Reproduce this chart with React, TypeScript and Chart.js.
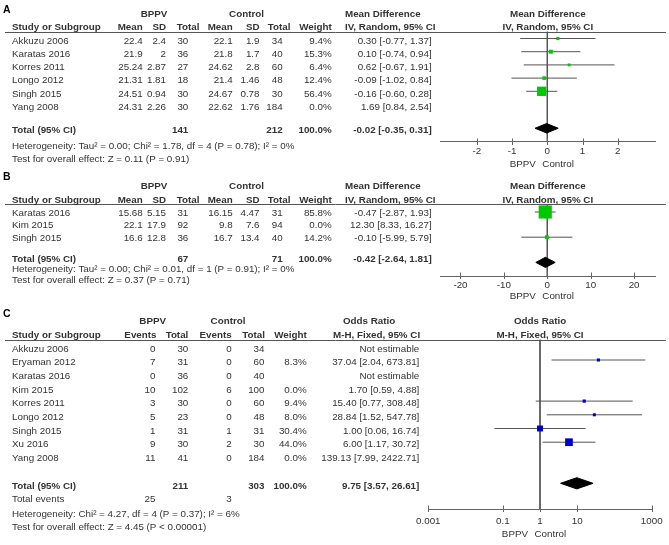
import React, { useEffect, useRef } from "react";
import { Chart, registerables } from "chart.js";

Chart.register(...registerables);

/* ================= Panel A : Mean difference (IV, Random) ================= */
const A_STUDIES = ["Akkuzu 2006", "Karatas 2016", "Korres 2011", "Longo 2012", "Singh 2015", "Yang 2008"];
const A_BPPV_MEAN = [22.4, 21.9, 25.24, 21.31, 24.51, 24.31];
const A_BPPV_SD = [2.4, 2, 2.87, 1.81, 0.94, 2.26];
const A_BPPV_N = [30, 36, 27, 18, 30, 30];
const A_CTRL_MEAN = [22.1, 21.8, 24.62, 21.4, 24.67, 22.62];
const A_CTRL_SD = [1.9, 1.7, 2.8, 1.46, 0.78, 1.76];
const A_CTRL_N = [34, 40, 60, 48, 30, 184];
const A_WEIGHT = [9.4, 15.3, 6.4, 12.4, 56.4, 0.0];
const A_MD = [0.3, 0.1, 0.62, -0.09, -0.16, 1.69];
const A_LO = [-0.77, -0.74, -0.67, -1.02, -0.6, 0.84];
const A_HI = [1.37, 0.94, 1.91, 0.84, 0.28, 2.54];
const A_TOTAL_N = [141, 212];
const A_TOTAL = [-0.02, -0.35, 0.31];
const A_TICKS = [-2, -1, 0, 1, 2];
const A_HET = "Heterogeneity: Tau² = 0.00; Chi² = 1.78, df = 4 (P = 0.78); I² = 0%";
const A_TEST = "Test for overall effect: Z = 0.11 (P = 0.91)";

/* ================= Panel B : Mean difference (IV, Random) ================= */
const B_STUDIES = ["Karatas 2016", "Kim 2015", "Singh 2015"];
const B_BPPV_MEAN = [15.68, 22.1, 16.6];
const B_BPPV_SD = [5.15, 17.9, 12.8];
const B_BPPV_N = [31, 92, 36];
const B_CTRL_MEAN = [16.15, 9.8, 16.7];
const B_CTRL_SD = [4.47, 7.6, 13.4];
const B_CTRL_N = [31, 94, 40];
const B_WEIGHT = [85.8, 0.0, 14.2];
const B_MD = [-0.47, 12.3, -0.1];
const B_LO = [-2.87, 8.33, -5.99];
const B_HI = [1.93, 16.27, 5.79];
const B_TOTAL_N = [67, 71];
const B_TOTAL = [-0.42, -2.64, 1.81];
const B_TICKS = [-20, -10, 0, 10, 20];
const B_HET = "Heterogeneity: Tau² = 0.00; Chi² = 0.01, df = 1 (P = 0.91); I² = 0%";
const B_TEST = "Test for overall effect: Z = 0.37 (P = 0.71)";

/* ================= Panel C : Odds ratio (M-H, Fixed) ================= */
const C_STUDIES = ["Akkuzu 2006", "Eryaman 2012", "Karatas 2016", "Kim 2015", "Korres 2011", "Longo 2012", "Singh 2015", "Xu 2016", "Yang 2008"];
const C_BPPV_EVENTS = [0, 7, 0, 10, 3, 5, 1, 9, 11];
const C_BPPV_N = [30, 31, 36, 102, 30, 23, 31, 30, 41];
const C_CTRL_EVENTS = [0, 0, 0, 6, 0, 0, 1, 2, 0];
const C_CTRL_N = [34, 60, 40, 100, 60, 48, 31, 30, 184];
const C_WEIGHT = [null, 8.3, null, 0.0, 9.4, 8.0, 30.4, 44.0, 0.0];
const C_OR = [null, 37.04, null, 1.7, 15.4, 28.84, 1.0, 6.0, 139.13];
const C_LO = [null, 2.04, null, 0.59, 0.77, 1.52, 0.06, 1.17, 7.99];
const C_HI = [null, 673.81, null, 4.88, 308.48, 547.78, 16.74, 30.72, 2422.71];
const C_TOTAL_N = [211, 303];
const C_TOTAL_EVENTS = [25, 3];
const C_TOTAL = [9.75, 3.57, 26.61];
const C_TICKS = [0.001, 0.1, 1, 10, 1000];
const C_HET = "Heterogeneity: Chi² = 4.27, df = 4 (P = 0.37); I² = 6%";
const C_TEST = "Test for overall effect: Z = 4.45 (P < 0.00001)";

/* ================= styling / layout ================= */
const FONT = '"Liberation Sans", Arial, Helvetica, sans-serif';
const FS = 9.8;
const INK = "#333333";
const LINE = "#555555";
const W = 669;

type Cell = { s: string; x: number | "mid"; v: number; a: CanvasTextAlign; b?: boolean; size?: number; c?: string; dy?: number };

type Geo = {
  top: number; height: number; headerY: number; axisY: number; row1: number; unit: number;
  letterY: number; groupY: number; headY: number; hetY: number; testY: number; textDy: number; totalDy: number;
};

const fmt2 = (v: number) => v.toFixed(2);
const ci = (e: number, l: number, h: number) => `${fmt2(e)} [${fmt2(l)}, ${fmt2(h)}]`;
const rowOf = (g: Geo) => (px: number) => 1 + (px - g.row1) / g.unit;

function mdCells(g: Geo, letter: string, studies: string[], m1: number[], s1: number[], n1: number[],
  m2: number[], s2: number[], n2: number[], w: number[], est: number[], lo: number[], hi: number[],
  totN: number[], tot: number[], het: string, test: string, totalRow: number): Cell[] {
  const r = rowOf(g);
  const c: Cell[] = [];
  c.push({ s: letter, x: 3, v: r(g.letterY), a: "left", b: true, size: 10.5, c: "#000" });
  c.push({ s: "BPPV", x: 154, v: r(g.groupY), a: "center", b: true });
  c.push({ s: "Control", x: 246.5, v: r(g.groupY), a: "center", b: true });
  c.push({ s: "Mean Difference", x: 345, v: r(g.groupY), a: "left", b: true });
  c.push({ s: "Mean Difference", x: "mid", v: r(g.groupY), a: "center", b: true });
  const hv = r(g.headY);
  const heads: [string, number | "mid", CanvasTextAlign][] = [
    ["Study or Subgroup", 12, "left"], ["Mean", 142.7, "right"], ["SD", 166, "right"], ["Total", 199.5, "right"],
    ["Mean", 232.7, "right"], ["SD", 259.5, "right"], ["Total", 290.5, "right"], ["Weight", 331.7, "right"],
    ["IV, Random, 95% CI", 345, "left"], ["IV, Random, 95% CI", "mid", "center"],
  ];
  heads.forEach(([s, x, a]) => c.push({ s, x, v: hv, a, b: true }));
  studies.forEach((name, i) => {
    const v = i + 1, dy = g.textDy;
    c.push({ s: name, x: 12, v, a: "left", dy });
    c.push({ s: String(m1[i]), x: 142.7, v, a: "right", dy });
    c.push({ s: String(s1[i]), x: 166, v, a: "right", dy });
    c.push({ s: String(n1[i]), x: 188.3, v, a: "right", dy });
    c.push({ s: String(m2[i]), x: 232.7, v, a: "right", dy });
    c.push({ s: String(s2[i]), x: 259.5, v, a: "right", dy });
    c.push({ s: String(n2[i]), x: 282.7, v, a: "right", dy });
    c.push({ s: w[i].toFixed(1) + "%", x: 331.7, v, a: "right", dy });
    c.push({ s: ci(est[i], lo[i], hi[i]), x: 431.7, v, a: "right", dy });
  });
  const dy = g.totalDy;
  c.push({ s: "Total (95% CI)", x: 12, v: totalRow, a: "left", b: true, dy });
  c.push({ s: String(totN[0]), x: 188.3, v: totalRow, a: "right", b: true, dy });
  c.push({ s: String(totN[1]), x: 282.7, v: totalRow, a: "right", b: true, dy });
  c.push({ s: "100.0%", x: 331.7, v: totalRow, a: "right", b: true, dy });
  c.push({ s: ci(tot[0], tot[1], tot[2]), x: 431.7, v: totalRow, a: "right", b: true, dy });
  c.push({ s: het, x: 12, v: r(g.hetY), a: "left" });
  c.push({ s: test, x: 12, v: r(g.testY), a: "left" });
  return c;
}

function orCells(g: Geo, totalRow: number, eventsRow: number): Cell[] {
  const r = rowOf(g);
  const c: Cell[] = [];
  c.push({ s: "C", x: 3, v: r(g.letterY), a: "left", b: true, size: 10.5, c: "#000" });
  c.push({ s: "BPPV", x: 152.7, v: r(g.groupY), a: "center", b: true });
  c.push({ s: "Control", x: 228, v: r(g.groupY), a: "center", b: true });
  c.push({ s: "Odds Ratio", x: 343, v: r(g.groupY), a: "left", b: true });
  c.push({ s: "Odds Ratio", x: "mid", v: r(g.groupY), a: "center", b: true });
  const hv = r(g.headY);
  const heads: [string, number | "mid", CanvasTextAlign][] = [
    ["Study or Subgroup", 12, "left"], ["Events", 156.5, "right"], ["Total", 188.3, "right"],
    ["Events", 231.7, "right"], ["Total", 265, "right"], ["Weight", 306.7, "right"],
    ["M-H, Fixed, 95% CI", 333, "left"], ["M-H, Fixed, 95% CI", "mid", "center"],
  ];
  heads.forEach(([s, x, a]) => c.push({ s, x, v: hv, a, b: true }));
  C_STUDIES.forEach((name, i) => {
    const v = i + 1, dy = g.textDy;
    c.push({ s: name, x: 12, v, a: "left", dy });
    c.push({ s: String(C_BPPV_EVENTS[i]), x: 155.5, v, a: "right", dy });
    c.push({ s: String(C_BPPV_N[i]), x: 188.3, v, a: "right", dy });
    c.push({ s: String(C_CTRL_EVENTS[i]), x: 231.7, v, a: "right", dy });
    c.push({ s: String(C_CTRL_N[i]), x: 264.5, v, a: "right", dy });
    const w = C_WEIGHT[i];
    if (w != null) c.push({ s: w.toFixed(1) + "%", x: 306.7, v, a: "right", dy });
    const e = C_OR[i], l = C_LO[i], h = C_HI[i];
    c.push({ s: e == null || l == null || h == null ? "Not estimable" : ci(e, l, h), x: 419.3, v, a: "right", dy });
  });
  const dy = g.totalDy;
  c.push({ s: "Total (95% CI)", x: 12, v: totalRow, a: "left", b: true, dy });
  c.push({ s: String(C_TOTAL_N[0]), x: 188.3, v: totalRow, a: "right", b: true, dy });
  c.push({ s: String(C_TOTAL_N[1]), x: 264.5, v: totalRow, a: "right", b: true, dy });
  c.push({ s: "100.0%", x: 306.7, v: totalRow, a: "right", b: true, dy });
  c.push({ s: ci(C_TOTAL[0], C_TOTAL[1], C_TOTAL[2]), x: 419.3, v: totalRow, a: "right", b: true, dy });
  c.push({ s: "Total events", x: 12, v: eventsRow, a: "left", dy: g.textDy });
  c.push({ s: String(C_TOTAL_EVENTS[0]), x: 155.5, v: eventsRow, a: "right", dy: g.textDy });
  c.push({ s: String(C_TOTAL_EVENTS[1]), x: 231.7, v: eventsRow, a: "right", dy: g.textDy });
  c.push({ s: C_HET, x: 12, v: r(g.hetY), a: "left" });
  c.push({ s: C_TEST, x: 12, v: r(g.testY), a: "left" });
  return c;
}

type Panel = {
  g: Geo; plotLeft: number; plotRight: number;
  xType: "linear" | "logarithmic"; xMin: number; xMax: number; ticks: number[]; tickPad: number;
  nullX: number; favDy: number; diamondHalf: number; markColor: string;
  est: (number | null)[]; lo: (number | null)[]; hi: (number | null)[]; weight: (number | null)[];
  total: number[]; totalRow: number; cells: Cell[];
};

const GEO_A: Geo = { top: 0, height: 171, headerY: 31.5, axisY: 141.7, row1: 38.5, unit: 13.2, letterY: 10, groupY: 14, headY: 27, hetY: 146.5, testY: 159, textDy: 2.5, totalDy: 2.5 };
const GEO_B: Geo = { top: 171, height: 137, headerY: 204, axisY: 276, row1: 212, unit: 12.6, letterY: 177, groupY: 186, headY: 200, hetY: 269.3, testY: 280.5, textDy: 1, totalDy: -3.5 };
const GEO_C: Geo = { top: 308, height: 237, headerY: 339.5, axisY: 509.3, row1: 346.3, unit: 13.7, letterY: 314, groupY: 321.5, headY: 334.8, hetY: 514, testY: 527, textDy: 2.5, totalDy: 2.5 };

const PANEL_A: Panel = {
  g: GEO_A, plotLeft: 440.7, plotRight: 655, xType: "linear", xMin: -3.03, xMax: 3.06, ticks: A_TICKS, tickPad: 4,
  nullX: 0, favDy: 22.6, diamondHalf: 4.7, markColor: "#00c800",
  est: A_MD, lo: A_LO, hi: A_HI, weight: A_WEIGHT, total: A_TOTAL, totalRow: 7.8,
  cells: mdCells(GEO_A, "A", A_STUDIES, A_BPPV_MEAN, A_BPPV_SD, A_BPPV_N, A_CTRL_MEAN, A_CTRL_SD, A_CTRL_N,
    A_WEIGHT, A_MD, A_LO, A_HI, A_TOTAL_N, A_TOTAL, A_HET, A_TEST, 7.8),
};
const PANEL_B: Panel = {
  g: GEO_B, plotLeft: 440.7, plotRight: 655, xType: "linear", xMin: -24.56, xMax: 24.82, ticks: B_TICKS, tickPad: 3.7,
  nullX: 0, favDy: 20.7, diamondHalf: 5.1, markColor: "#00c800",
  est: B_MD, lo: B_LO, hi: B_HI, weight: B_WEIGHT, total: B_TOTAL, totalRow: 5,
  cells: mdCells(GEO_B, "B", B_STUDIES, B_BPPV_MEAN, B_BPPV_SD, B_BPPV_N, B_CTRL_MEAN, B_CTRL_SD, B_CTRL_N,
    B_WEIGHT, B_MD, B_LO, B_HI, B_TOTAL_N, B_TOTAL, B_HET, B_TEST, 5),
};
const PANEL_C: Panel = {
  g: GEO_C, plotLeft: 428.3, plotRight: 655, xType: "logarithmic", xMin: 0.001, xMax: 1000, ticks: C_TICKS, tickPad: 6.4,
  nullX: 1, favDy: 24.7, diamondHalf: 5.6, markColor: "#0000cc",
  est: C_OR, lo: C_LO, hi: C_HI, weight: C_WEIGHT, total: C_TOTAL, totalRow: 11,
  cells: orCells(GEO_C, 11, 12),
};

function makePlugin(p: Panel) {
  return {
    id: "forestTable",
    afterDraw(chart: any) {
      const ctx = chart.ctx as CanvasRenderingContext2D;
      const xs = chart.scales.x, ys = chart.scales.y, area = chart.chartArea;
      const mid = (area.left + area.right) / 2;
      ctx.save();
      ctx.strokeStyle = LINE;
      ctx.lineWidth = 1;
      const hy = Math.round(area.top) + 0.5;
      ctx.beginPath(); ctx.moveTo(5, hy); ctx.lineTo(666, hy); ctx.stroke();
      const ay = Math.round(area.bottom);
      ctx.strokeStyle = "#666";
      p.ticks.forEach((t) => {
        const x = Math.round(xs.getPixelForValue(t)) + 0.5;
        ctx.beginPath(); ctx.moveTo(x, ay - 3.5); ctx.lineTo(x, ay + 3); ctx.stroke();
      });
      ctx.textBaseline = "middle";
      for (const cell of p.cells) {
        ctx.font = `${cell.b ? "bold " : ""}${cell.size ?? FS}px ${FONT}`;
        ctx.fillStyle = cell.c ?? INK;
        ctx.textAlign = cell.a;
        const x = cell.x === "mid" ? mid : cell.x;
        ctx.fillText(cell.s, x, ys.getPixelForValue(cell.v) + (cell.dy ?? 0));
      }
      ctx.font = `${FS}px ${FONT}`;
      ctx.fillStyle = INK;
      ctx.textAlign = "right";
      ctx.fillText("BPPV", mid - 12, area.bottom + p.favDy);
      ctx.textAlign = "left";
      ctx.fillText("Control", mid - 5.5, area.bottom + p.favDy);
      ctx.restore();
    },
  };
}

function buildConfig(p: Panel): any {
  const g = p.g;
  const r = rowOf(g);
  const yMin = r(g.headerY), yMax = r(g.axisY);
  const hu = p.diamondHalf / g.unit;
  const datasets: any[] = [];
  const sq: any[] = [], rad: number[] = [];
  p.est.forEach((e, i) => {
    const w = p.weight[i];
    if (e != null && w != null && w > 0) {
      sq.push({ x: e, y: i + 1 });
      rad.push((2 + 0.13 * w) / Math.SQRT2);
    }
  });
  datasets.push({
    data: sq, showLine: false, pointStyle: "rect", pointRadius: rad, pointHoverRadius: rad,
    pointBackgroundColor: p.markColor, pointBorderColor: p.markColor, pointBorderWidth: 0, clip: false,
  });
  const [te, tl, th] = p.total, tr = p.totalRow;
  datasets.push({
    data: [{ x: tl, y: tr }, { x: te, y: tr - hu }, { x: th, y: tr }, { x: te, y: tr + hu }, { x: tl, y: tr }],
    showLine: true, fill: "shape", backgroundColor: "#000", borderColor: "#000", borderWidth: 1,
    pointRadius: 0, pointHoverRadius: 0, tension: 0, clip: false,
  });
  p.est.forEach((e, i) => {
    const w = p.weight[i], l = p.lo[i], h = p.hi[i];
    if (e != null && w != null && w > 0 && l != null && h != null) {
      datasets.push({
        data: [{ x: l, y: i + 1 }, { x: h, y: i + 1 }], showLine: true, borderColor: LINE, borderWidth: 1,
        pointRadius: 0, pointHoverRadius: 0, fill: false, clip: false,
      });
    }
  });
  datasets.push({
    data: [{ x: p.nullX, y: yMin }, { x: p.nullX, y: yMax }], showLine: true, borderColor: "#555", borderWidth: 1,
    pointRadius: 0, pointHoverRadius: 0, fill: false,
  });
  const axisH = g.height - (g.axisY - g.top);
  return {
    type: "scatter",
    data: { datasets },
    options: {
      responsive: false,
      animation: false,
      devicePixelRatio: 1,
      events: [],
      layout: { padding: { left: p.plotLeft, right: W - p.plotRight, top: g.headerY - g.top, bottom: 0 } },
      plugins: { legend: { display: false }, tooltip: { enabled: false }, title: { display: false } },
      scales: {
        x: {
          type: p.xType, min: p.xMin, max: p.xMax, position: "bottom", bounds: "data",
          afterBuildTicks: (s: any) => { s.ticks = p.ticks.map((v) => ({ value: v })); },
          afterFit: (s: any) => { s.height = axisH; },
          grid: { display: true, drawOnChartArea: false, drawTicks: false },
          border: { display: true, color: "#666", width: 1 },
          ticks: {
            padding: p.tickPad, autoSkip: false, maxRotation: 0, minRotation: 0, color: INK,
            font: { family: FONT, size: FS }, callback: (v: any) => String(v),
          },
        },
        y: { type: "linear", reverse: true, min: yMin, max: yMax, display: false },
      },
    },
    plugins: [makePlugin(p)],
  };
}

function ForestCanvas({ p }: { p: Panel }) {
  const ref = useRef<HTMLCanvasElement>(null);
  useEffect(() => {
    if (!ref.current) return;
    const chart = new Chart(ref.current, buildConfig(p));
    return () => chart.destroy();
  }, [p]);
  return (
    <canvas
      ref={ref}
      width={W}
      height={p.g.height}
      style={{ position: "absolute", left: 0, top: p.g.top, width: W, height: p.g.height, display: "block" }}
    />
  );
}

export default function App() {
  return (
    <div style={{ position: "absolute", left: 0, top: 0, width: W, height: 545, background: "#ffffff", overflow: "hidden" }}>
      <ForestCanvas p={PANEL_A} />
      <ForestCanvas p={PANEL_B} />
      <ForestCanvas p={PANEL_C} />
    </div>
  );
}
